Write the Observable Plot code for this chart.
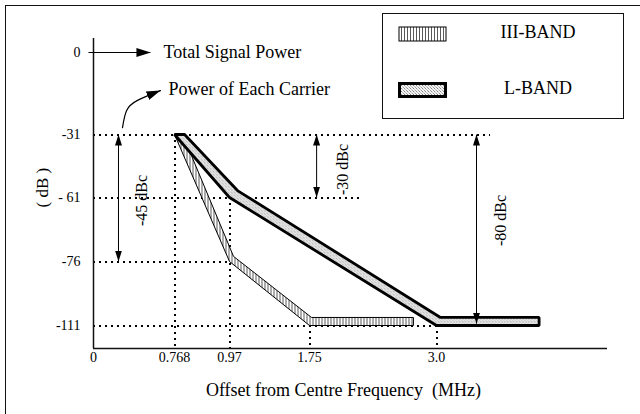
<!DOCTYPE html>
<html><head><meta charset="utf-8">
<script src="https://cdn.jsdelivr.net/npm/d3@7"></script>
<script src="https://cdn.jsdelivr.net/npm/@observablehq/plot@0.6"></script>
<style>
html,body{margin:0;padding:0;background:#fff;}
#wrap{position:relative;width:640px;height:414px;overflow:hidden;font-family:"Liberation Serif","Times New Roman",serif;}
#border{position:absolute;left:5px;top:5px;width:700px;height:500px;border-left:1.5px solid #111;border-top:1.5px solid #111;}
#chart{position:absolute;left:0;top:0;}
#legend{position:absolute;left:382px;top:13px;width:240px;height:104px;border:1.5px solid #111;background:#fff;}
#legend .sw{position:absolute;left:15px;}
#legend .lab{position:absolute;left:110px;width:90px;text-align:center;font-size:18px;line-height:20px;color:#000;}
#defs{position:absolute;width:0;height:0;}
</style></head>
<body>
<svg id="defs" width="0" height="0">
  <defs>
    <pattern id="hatch" width="3" height="4" patternUnits="userSpaceOnUse">
      <rect width="3" height="4" fill="#fff"/>
      <rect x="0" y="0" width="1" height="4" fill="#5a5a5a"/>
    </pattern>
    <pattern id="stip" width="3" height="3" patternUnits="userSpaceOnUse">
      <rect width="3" height="3" fill="#f2f2f2"/>
      <rect x="0" y="0" width="1" height="1" fill="#8a8a8a"/>
      <rect x="1" y="1" width="1" height="1" fill="#c4c4c4"/>
      <rect x="2" y="2" width="1" height="1" fill="#a0a0a0"/>
    </pattern>
  </defs>
</svg>
<div id="wrap">
  <div id="border"></div>
  <div id="chart"></div>
  <div id="legend">
    <svg class="sw" style="top:12px" width="49" height="16"><rect x="1" y="1" width="47" height="14" fill="url(#hatch)" stroke="#000" stroke-width="1"/></svg>
    <div class="lab" style="top:8px">III-BAND</div>
    <svg class="sw" style="top:68px" width="49" height="16"><rect x="1.5" y="1.5" width="46" height="13" fill="url(#stip)" stroke="#000" stroke-width="3"/></svg>
    <div class="lab" style="top:64px">L-BAND</div>
  </div>
</div>
<script>
// ---- data ----
const xTicks = [0, 0.768, 0.97, 1.75, 3.0];
const xTickLabels = ["0", "0.768", "0.97", "1.75", "3.0"];
const yTicks = [0, -31, -61, -76, -111];
const yTickLabels = ["0", "-31", "- 61", "-76", "-111"];

// L-BAND mask outline (upper edge then lower edge back)
const lBandUpper = [[0.768, -31], [0.805, -31], [1.048, -57.7], [3.023, -106.6], [3.6, -106.6]];
const lBandLower = [[3.6, -111], [3.0, -111], [0.97, -61], [0.768, -31]];
// III-BAND mask outline
const b3Lower = [[0.768, -31], [0.97, -76], [1.75, -111], [2.773, -111]];
const b3Upper = [[2.773, -106.6], [1.77, -106.6], [1.009, -74.8], [0.827, -40.0]];

// dotted reference lines
const hGuides = [
  {y: -31, x1: 0, x2: 3.316},
  {y: -61, x1: 0, x2: 2.27},
  {y: -76, x1: 0, x2: 0.97},
  {y: -111, x1: 0, x2: 3.0}
];
const vGuides = [
  {x: 0.768, y1: -31, y2: -125},
  {x: 0.97, y1: -61, y2: -125},
  {x: 1.75, y1: -111, y2: -125},
  {x: 3.0, y1: -111, y2: -125}
];
// double arrows and their labels
const dblArrows = [
  {x: 0.237, y1: -31, y2: -76},
  {x: 1.82, y1: -31, y2: -61},
  {x: 3.234, y1: -31, y2: -110}
];
const dbcLabels = [
  {x: 0.462, y: -61.7, text: "-45 dBc"},
  {x: 2.075, y: -47.7, text: "-30 dBc"},
  {x: 3.375, y: -66.4, text: "-80 dBc"}
];
const notes = [
  {x: 0.664, y: 0, text: "Total Signal Power"},
  {x: 0.711, y: -14, text: "Power of Each Carrier"}
];
const totalArrow = [{x1: -0.05, x2: 0.54, y: 0}];
const carrierCurve = [[0.275, -28.4], [0.313, -22], [0.417, -18.1], [0.635, -14.4]];
const axisTitleX = "Offset from Centre Frequency  (MHz)";
const axisTitleY = "( dB )";

const lBand = lBandUpper.concat(lBandLower);
const b3Band = b3Lower.concat(b3Upper);

const chart = Plot.plot({
  width: 640,
  height: 414,
  marginTop: 38,
  marginLeft: 93,
  marginRight: 33,
  marginBottom: 66,
  style: {fontFamily: "Liberation Serif, Times New Roman, serif", fontSize: "14px", background: "transparent", overflow: "visible"},
  x: {
    type: "linear",
    domain: [-0.05, 0, 0.768, 0.97, 1.75, 3.0, 4.0],
    range: [88, 93, 174, 229, 309, 436, 607],
    ticks: xTicks,
    tickFormat: d => xTickLabels[xTicks.indexOf(d)],
    tickSize: 0,
    tickPadding: 4,
    label: null
  },
  y: {
    type: "linear",
    domain: [8, 0, -31, -61, -76, -111, -125],
    range: [38, 52, 134, 197, 261, 325, 348],
    ticks: yTicks,
    tickFormat: d => yTickLabels[yTicks.indexOf(d)],
    tickSize: 0,
    tickPadding: 13,
    label: null
  },
  marks: [
    Plot.ruleY(hGuides, {y: "y", x1: "x1", x2: "x2", stroke: "#000", strokeWidth: 2, strokeDasharray: "2,4", shapeRendering: "crispEdges"}),
    Plot.ruleX(vGuides, {x: "x", y1: "y1", y2: "y2", stroke: "#000", strokeWidth: 2, strokeDasharray: "2,4", shapeRendering: "crispEdges"}),
    Plot.ruleX([0], {y1: 8, y2: -125, stroke: "#111", strokeWidth: 1.5}),
    Plot.ruleY([-125], {x1: 0, x2: 4.0, stroke: "#111", strokeWidth: 1.5}),
    Plot.line(b3Band, {x: d => d[0], y: d => d[1], curve: "linear-closed", stroke: "#000", strokeWidth: 1, strokeLinejoin: "miter"}),
    Plot.line(lBand, {x: d => d[0], y: d => d[1], curve: "linear-closed", stroke: "#000", strokeWidth: 2.8, strokeLinejoin: "miter"}),
    Plot.link(dblArrows, {x1: "x", x2: "x", y1: "y1", y2: "y2", stroke: "#000", strokeWidth: 1}),
    Plot.link(totalArrow, {x1: "x1", x2: "x2", y1: "y", y2: "y", stroke: "#000", strokeWidth: 1}),
    Plot.line(carrierCurve, {x: d => d[0], y: d => d[1], curve: "natural", stroke: "#000", strokeWidth: 1.2}),
    Plot.text(notes, {x: "x", y: "y", text: "text", textAnchor: "start", fontSize: 18, fill: "#000"}),
    Plot.text(dbcLabels, {x: "x", y: "y", text: "text", rotate: -90, fontSize: 16, fill: "#000"}),
    Plot.text([axisTitleX], {frameAnchor: "bottom", dy: 47, dx: -7, text: d => d, fontSize: 18, fill: "#000"}),
    Plot.text([axisTitleY], {frameAnchor: "left", dx: -51, dy: 14, rotate: -90, text: d => d, fontSize: 17, fill: "#000"})
  ]
});
document.getElementById("chart").appendChild(chart);

const svg = d3.select(chart);
svg.insert("defs", ":first-child").html(`
  <marker id="ahS" viewBox="0 0 11 7" refX="11" refY="3.5" markerWidth="11" markerHeight="7" markerUnits="userSpaceOnUse" orient="auto-start-reverse">
    <path d="M0,0L11,3.5L0,7Z" fill="#000"/>
  </marker>
  <marker id="ahL" viewBox="0 0 14 9" refX="14" refY="4.5" markerWidth="14" markerHeight="9" markerUnits="userSpaceOnUse" orient="auto-start-reverse">
    <path d="M0,0L14,4.5L0,9Z" fill="#000"/>
  </marker>`);
const linkGroups = svg.selectAll('g[aria-label="link"]').nodes();
const lineGroups = svg.selectAll('g[aria-label="line"]').nodes();
if (linkGroups[0]) d3.select(linkGroups[0]).selectAll("path").attr("marker-start", "url(#ahS)").attr("marker-end", "url(#ahS)");
if (linkGroups[1]) d3.select(linkGroups[1]).selectAll("path").attr("marker-end", "url(#ahL)");
if (lineGroups[0]) d3.select(lineGroups[0]).selectAll("path").attr("fill", "url(#hatch)");
if (lineGroups[1]) d3.select(lineGroups[1]).selectAll("path").attr("fill", "url(#stip)");
if (lineGroups[2]) d3.select(lineGroups[2]).selectAll("path").attr("marker-end", "url(#ahL)");
</script>
</body></html>
